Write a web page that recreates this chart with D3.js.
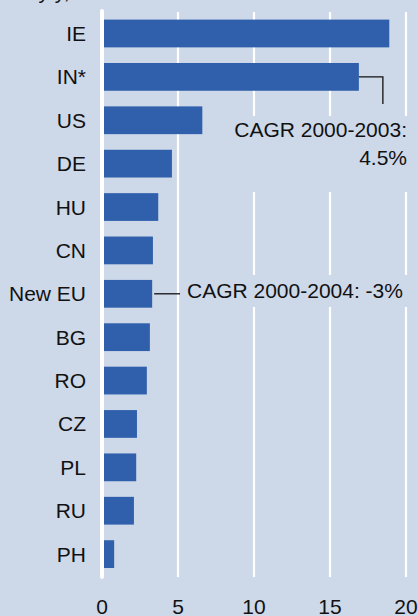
<!DOCTYPE html>
<html>
<head>
<meta charset="utf-8">
<script src="https://cdn.jsdelivr.net/npm/d3@7"></script>
<style>
  html, body { margin: 0; padding: 0; background: #CDD8E9; }
  svg { display: block; }
  text { font-family: "Liberation Sans", Arial, sans-serif; fill: #111; }
</style>
</head>
<body>
<div id="chart"></div>
<script>
const categories = ["IE", "IN*", "US", "DE", "HU", "CN", "New EU", "BG", "RO", "CZ", "PL", "RU", "PH"];
const values = [18.9, 16.9, 6.6, 4.6, 3.7, 3.35, 3.3, 3.15, 2.95, 2.3, 2.25, 2.1, 0.8];
const tickValues = [0, 5, 10, 15, 20];
const tickLabels = ["0", "5", "10", "15", "20"];
const annotationTexts = [["CAGR 2000-2003:", "4.5%"], ["CAGR 2000-2004: -3%"]];
const annotationCats = ["IN*", "New EU"];

const W = 418, H = 616;
const bg = "#CDD8E9", barColor = "#3060AB";

const svg = d3.select("#chart").append("svg").attr("width", W).attr("height", H);
svg.append("rect").attr("width", W).attr("height", H).attr("fill", bg);

const x = d3.scaleLinear().domain([0, 20]).range([102, 406]);
const y = d3.scaleBand().domain(categories).range([11.8, 575.8]).paddingInner(0.36).paddingOuter(0.18);

// partially cut-off header text (as in the reference)
svg.append("text").attr("x", 14).attr("y", -1).attr("font-size", 21).text("% y/y, %");

// gridlines
svg.append("g").selectAll("line").data(tickValues.filter(d => d > 0)).join("line")
  .attr("x1", d => x(d)).attr("x2", d => x(d))
  .attr("y1", 12).attr("y2", 577)
  .attr("stroke", "#fff").attr("stroke-width", 2.2);

// annotation backgrounds (hide gridlines behind text)
svg.append("rect").attr("x", 226).attr("y", 116).attr("width", 192).attr("height", 76).attr("fill", bg);
svg.append("rect").attr("x", 182).attr("y", 275).attr("width", 236).attr("height", 32).attr("fill", bg);

// bars
svg.append("g").selectAll("rect").data(categories).join("rect")
  .attr("x", x(0))
  .attr("y", (d) => y(d))
  .attr("width", (d, i) => x(values[i]) - x(0))
  .attr("height", y.bandwidth())
  .attr("fill", barColor);

// zero axis line
svg.append("line").attr("x1", x(0)).attr("x2", x(0)).attr("y1", 11).attr("y2", 577)
  .attr("stroke", "#fff").attr("stroke-width", 4).attr("stroke-linecap", "round");

// category labels
svg.append("g").selectAll("text").data(categories).join("text")
  .attr("x", 86)
  .attr("y", d => y(d) + y.bandwidth() / 2 + 7.5)
  .attr("text-anchor", "end")
  .attr("font-size", 21)
  .text(d => d);

// x tick labels
svg.append("g").selectAll("text").data(tickValues).join("text")
  .attr("x", d => x(d))
  .attr("y", 614)
  .attr("text-anchor", "middle")
  .attr("font-size", 21)
  .text((d, i) => tickLabels[i]);

// annotation 1 (IN*)
const c1 = annotationCats[0];
const v1 = values[categories.indexOf(c1)];
const y1 = y(c1) + y.bandwidth() / 2;
svg.append("path")
  .attr("d", `M${x(v1)},${y1}H${x(v1) + 24}V${y1 + 27}`)
  .attr("fill", "none").attr("stroke", "#111").attr("stroke-width", 1.3);
svg.append("text").attr("x", 407).attr("y", 137).attr("text-anchor", "end").attr("font-size", 21)
  .text(annotationTexts[0][0]);
svg.append("text").attr("x", 407).attr("y", 165).attr("text-anchor", "end").attr("font-size", 21)
  .text(annotationTexts[0][1]);

// annotation 2 (New EU)
const c2 = annotationCats[1];
const v2 = values[categories.indexOf(c2)];
const y2 = y(c2) + y.bandwidth() / 2;
svg.append("line").attr("x1", x(v2) + 2).attr("x2", 180).attr("y1", y2).attr("y2", y2)
  .attr("stroke", "#111").attr("stroke-width", 1.3);
svg.append("text").attr("x", 187).attr("y", 298).attr("font-size", 21).text(annotationTexts[1][0]);
</script>
</body>
</html>
